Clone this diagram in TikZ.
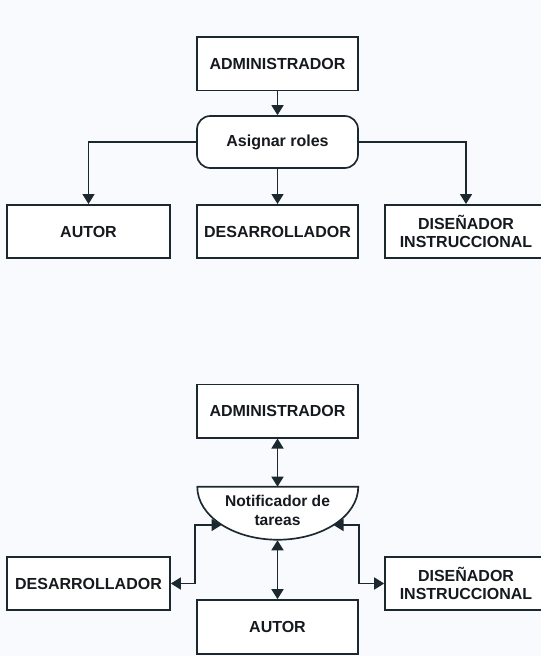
\documentclass[tikz,border=0pt]{standalone}
\usepackage{fontspec}
\setmainfont{Liberation Sans}
\usetikzlibrary{arrows.meta,calc}
\definecolor{ink}{RGB}{28,40,48}
\definecolor{txt}{RGB}{22,25,30}
\definecolor{paper}{RGB}{249,250,253}
\tikzset{
  box/.style={draw=ink, line width=1.25pt, fill=white, inner sep=2pt,
    minimum width=120.75pt, minimum height=40pt, align=center,
    text=txt, font=\fontsize{12}{13.5}\selectfont\bfseries},
  rolebox/.style={box, rounded corners=10pt},
  plain/.style={inner sep=0pt, align=center, text=txt,
    font=\fontsize{11.7}{14.2}\selectfont\bfseries},
  wire/.style={draw=ink, line width=1.2pt},
  tip/.style={Triangle[length=7.5pt,width=9pt]},
  arr/.style={wire, -{Triangle[length=7.5pt,width=9pt]}},
  darr/.style={wire, {Triangle[length=7.5pt,width=9pt]}-{Triangle[length=7.5pt,width=9pt]}}
}
\begin{document}
\begin{tikzpicture}[x=0.75pt,y=-0.75pt]
\fill[paper] (0,0) rectangle (541,656);
\useasboundingbox (0,0) rectangle (541,656);

% --- role assignment ---
\node[box] (adm1) at (277.5,64) {ADMINISTRADOR};
\node[rolebox, minimum height=39pt] (roles) at (277.5,142) {Asignar roles};
\node[box, minimum width=122.25pt] (autor1) at (88.5,231.5) {AUTOR};
\node[box] (desa1) at (277.5,231.5) {DESARROLLADOR};
\node[box, minimum width=121.5pt] (dise1) at (466,231.5) {DISEÑADOR\\INSTRUCCIONAL};

\draw[arr] (adm1.south) -- (roles.north);
\draw[arr] (roles.west) -| (autor1.north);
\draw[arr] (roles.south) -- (desa1.north);
\draw[arr] (roles.east) -| (dise1.north);

% --- task notifier ---
\node[box] (adm2) at (277.5,411) {ADMINISTRADOR};
\node[minimum width=120.75pt, minimum height=39.75pt, inner sep=0pt] (notif) at (277.5,513.5) {};
\draw[wire, line width=1.25pt, fill=white] (notif.north west) -- (notif.north east)
  arc[start angle=0, end angle=-180, x radius=60.375pt, y radius=39.75pt] -- cycle;
\node[plain] (notiftxt) at (277.5,510) {Notificador de\\tareas};
\node[box, minimum width=122.25pt] (desa2) at (88.5,583.5) {DESARROLLADOR};
\node[box, minimum width=121.5pt] (dise2) at (466,583.5) {DISEÑADOR\\INSTRUCCIONAL};
\node[box, minimum height=40.5pt] (autor2) at (277.5,627) {AUTOR};

\coordinate (nl) at (221.5,525);
\coordinate (nr) at (333.5,525);

\draw[darr] (adm2.south) -- (notif.north);
\draw[darr] (notif.south) -- (autor2.north);
\draw[darr] (desa2.east) -- ++(24,0) |- (nl);
\draw[darr] (dise2.west) -- ++(-25,0) |- (nr);
\end{tikzpicture}
\end{document}
